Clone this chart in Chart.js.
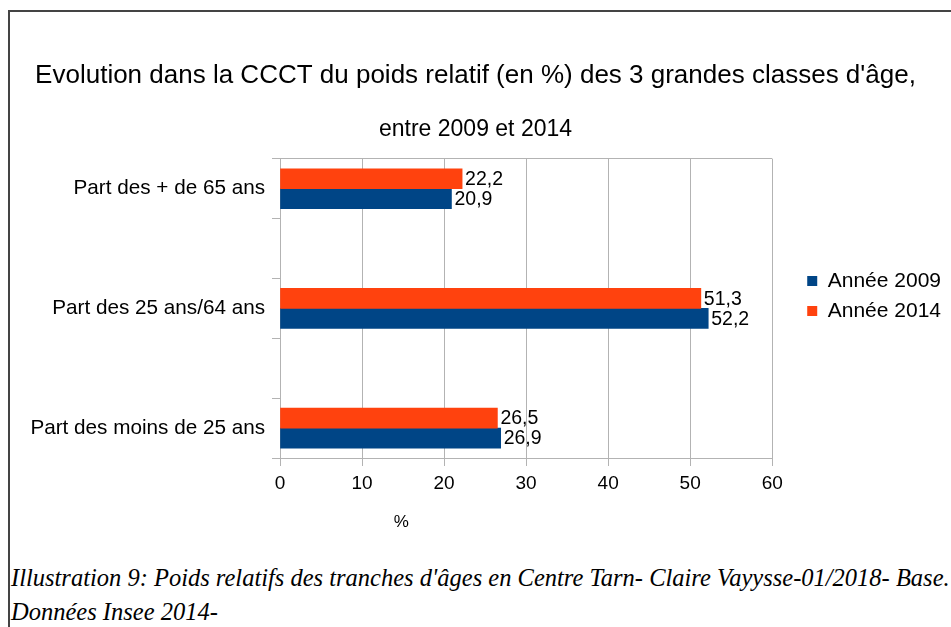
<!DOCTYPE html>
<html>
<head>
<meta charset="utf-8">
<script src="https://cdn.jsdelivr.net/npm/chart.js@4/dist/chart.umd.min.js"></script>
<style>
  html, body { margin: 0; padding: 0; background: #fff; width: 951px; height: 627px; overflow: hidden; }
  #frame { position: absolute; left: 8px; top: 10px; width: 1200px; height: 800px;
           border-left: 2px solid #444; border-top: 2px solid #444; }
  #c { position: absolute; left: 0; top: 0; }
  #caption { position: absolute; left: 11px; top: 561px; white-space: nowrap;
             font-family: "Liberation Serif", "DejaVu Serif", serif; font-style: italic;
             font-size: 24.5px; line-height: 34px; color: #000; }
</style>
</head>
<body>
<div id="frame"></div>
<div id="caption">Illustration 9: Poids relatifs des tranches d'âges en Centre Tarn- Claire Vayysse-01/2018- Base.<br>Données Insee 2014-</div>
<canvas id="c" width="951" height="592"></canvas>
<script>
const categories = ["Part des + de 65 ans", "Part des 25 ans/64 ans", "Part des moins de 25 ans"];
const annee2009 = [20.9, 52.2, 26.9];
const annee2014 = [22.2, 51.3, 26.5];
const xTicks = [0, 10, 20, 30, 40, 50, 60];
const titleText = "Evolution dans la CCCT du poids relatif (en %) des 3 grandes classes d'âge,";
const subtitleText = "entre 2009 et 2014";
const xAxisTitle = "%";

const FONT = "'Liberation Sans', Arial, sans-serif";
const GRID = "#b3b3b3";

const valueLabels = {
  id: "valueLabels",
  afterDatasetsDraw(chart) {
    const ctx = chart.ctx;
    ctx.save();
    ctx.font = "19.5px " + FONT;
    ctx.fillStyle = "#000";
    ctx.textAlign = "left";
    ctx.textBaseline = "middle";
    chart.data.datasets.forEach((ds, i) => {
      const meta = chart.getDatasetMeta(i);
      meta.data.forEach((el, j) => {
        const v = ds.data[j].x;
        ctx.fillText(v.toFixed(1).replace(".", ","), el.x + 3, el.y + 1);
      });
    });
    ctx.restore();
  }
};

const axisTitle = {
  id: "axisTitle",
  afterDraw(chart) {
    const ctx = chart.ctx;
    const xs = chart.scales.x;
    ctx.save();
    ctx.font = "17px " + FONT;
    ctx.fillStyle = "#000";
    ctx.textAlign = "center";
    ctx.textBaseline = "middle";
    ctx.fillText(xAxisTitle, xs.getPixelForValue(14.8), xs.top + 64);
    ctx.restore();
  }
};

const yTickValues = [-0.25, 0, 0.25, 0.75, 1, 1.25, 1.75, 2, 2.25];

new Chart(document.getElementById("c"), {
  type: "bar",
  data: {
    datasets: [
      { label: "Année 2014", data: annee2014.map((v, i) => ({ x: v, y: i })),
        backgroundColor: "#ff420e", borderWidth: 0 },
      { label: "Année 2009", data: annee2009.map((v, i) => ({ x: v, y: i })),
        backgroundColor: "#004586", borderWidth: 0 }
    ]
  },
  options: {
    responsive: false,
    animation: false,
    indexAxis: "y",
    barThickness: 20,
    layout: { padding: { left: 0, right: 0, top: 0, bottom: 0 } },
    plugins: {
      title: { display: true, text: titleText, color: "#000",
               font: { family: FONT, size: 26, weight: "normal" }, padding: { top: 60, bottom: 0 } },
      subtitle: { display: true, text: subtitleText, color: "#000",
                  font: { family: FONT, size: 23, weight: "normal" }, padding: { top: 25, bottom: 15 } },
      legend: { display: true, position: "right", reverse: true,
                labels: { color: "#000", font: { family: FONT, size: 21 },
                          boxWidth: 10, boxHeight: 10, padding: 9 } },
      tooltip: { enabled: false }
    },
    scales: {
      x: {
        type: "linear", min: 0, max: 60,
        afterBuildTicks: (s) => { s.ticks = xTicks.map(v => ({ value: v })); },
        afterFit: (s) => { s.height = 134; },
        grid: { color: GRID, tickLength: 8, tickColor: GRID },
        border: { color: GRID },
        ticks: { color: "#000", font: { family: FONT, size: 19 }, padding: 6 }
      },
      y: {
        type: "linear", reverse: true, min: -0.25, max: 2.25, offset: false,
        afterBuildTicks: (s) => { s.ticks = yTickValues.map(v => ({ value: v })); },
        afterFit: (s) => { s.width = 280; },
        grid: {
          offset: false, drawOnChartArea: true, tickLength: 8,
          color: (c) => (c.tick && c.tick.value === -0.25) ? GRID : "rgba(0,0,0,0)",
          tickColor: (c) => (c.tick && Number.isInteger(c.tick.value)) ? "rgba(0,0,0,0)" : GRID
        },
        border: { color: GRID },
        ticks: {
          color: "#000", font: { family: FONT, size: 20.7 }, padding: 7, autoSkip: false,
          callback: (v) => Number.isInteger(v) ? categories[v] : ""
        }
      },
      gap: {
        type: "linear", axis: "y", position: "right", display: true,
        grid: { display: false }, border: { display: false }, ticks: { display: false },
        afterFit: (s) => { s.width = 26; }
      }
    }
  },
  plugins: [valueLabels, axisTitle]
});
</script>
</body>
</html>
